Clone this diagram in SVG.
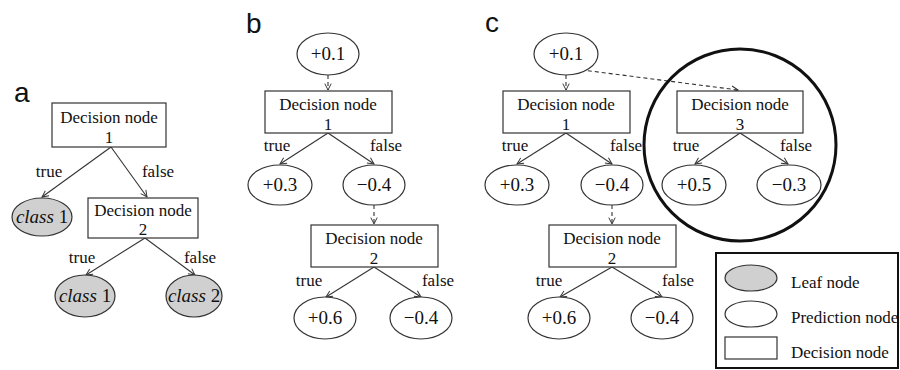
<svg xmlns="http://www.w3.org/2000/svg" width="900" height="370" viewBox="0 0 900 370" font-family="'Liberation Serif', 'Times New Roman', 'DejaVu Serif', serif">
<defs>
<marker id="arr" viewBox="0 0 10 10" refX="9" refY="5" markerWidth="8" markerHeight="8" markerUnits="userSpaceOnUse" orient="auto">
<path d="M1,1 L9,5 L1,9" fill="none" stroke="#333" stroke-width="1.2"/>
</marker>
</defs>
<style>
text{font-family:'Liberation Serif','Times New Roman','DejaVu Serif',serif;fill:#111}
.t{font-size:17px;text-anchor:middle}
.n{font-size:19px;text-anchor:middle}
.l{font-size:17px}
text.p{font-family:'Liberation Sans',Arial,sans-serif;font-size:28px}
.box{fill:#fff;stroke:#333;stroke-width:1.2}
.ell{fill:#fff;stroke:#333;stroke-width:1.2}
.leaf{fill:#d0d0d0;stroke:#333;stroke-width:1.2}
.e{stroke:#333;stroke-width:1.1;fill:none;marker-end:url(#arr)}
.d{stroke:#333;stroke-width:1.1;fill:none;stroke-dasharray:4,3;marker-end:url(#arr)}
.i{font-style:italic}
</style>
<rect width="900" height="370" fill="#fff"/>

<text class="p" x="14" y="102">a</text>
<text class="p" x="246" y="33">b</text>
<text class="p" x="485" y="32">c</text>

<g id="connectors">
<line class="e" x1="111" y1="147" x2="42" y2="197"/>
<line class="e" x1="111" y1="147" x2="147" y2="197"/>
<line class="e" x1="145" y1="238" x2="86" y2="275"/>
<line class="e" x1="145" y1="238" x2="195" y2="275"/>
<line class="d" x1="328" y1="75" x2="328" y2="90"/>
<line class="e" x1="328" y1="133" x2="280" y2="164"/>
<line class="e" x1="328" y1="133" x2="374" y2="164"/>
<line class="d" x1="374" y1="205" x2="374" y2="224"/>
<line class="e" x1="374" y1="267" x2="326" y2="297"/>
<line class="e" x1="374" y1="267" x2="421" y2="297"/>
<line class="d" x1="566" y1="75" x2="566" y2="90"/>
<line class="e" x1="566" y1="133" x2="517" y2="164"/>
<line class="e" x1="566" y1="133" x2="612" y2="164"/>
<line class="d" x1="612" y1="205" x2="612" y2="224"/>
<line class="e" x1="612" y1="267" x2="560" y2="297"/>
<line class="e" x1="612" y1="267" x2="662" y2="297"/>
<line class="d" x1="567" y1="68" x2="738" y2="90"/>
<line class="e" x1="740" y1="133" x2="695" y2="164"/>
<line class="e" x1="740" y1="133" x2="788" y2="164"/>
</g>

<g id="edge-labels">
<text class="t" x="49" y="177">true</text>
<text class="t" x="158" y="177">false</text>
<text class="t" x="82" y="263">true</text>
<text class="t" x="200" y="263">false</text>
<text class="t" x="277" y="151">true</text>
<text class="t" x="386" y="151">false</text>
<text class="t" x="309" y="286">true</text>
<text class="t" x="438" y="286">false</text>
<text class="t" x="515" y="151">true</text>
<text class="t" x="626" y="151">false</text>
<text class="t" x="549" y="286">true</text>
<text class="t" x="678" y="286">false</text>
<text class="t" x="686" y="151">true</text>
<text class="t" x="796" y="151">false</text>
</g>

<g id="a-dn1"><rect class="box" x="52" y="103" width="114" height="44"/><text class="t" x="109" y="123">Decision node</text><text class="t" x="109" y="143">1</text></g>
<g id="a-leaf1"><ellipse class="leaf" cx="42" cy="217" rx="30" ry="19"/><text class="n" x="42" y="223"><tspan class="i">class</tspan> 1</text></g>
<g id="a-dn2"><rect class="box" x="88" y="198" width="110" height="40"/><text class="t" x="143" y="216">Decision node</text><text class="t" x="143" y="235">2</text></g>
<g id="a-leaf2"><ellipse class="leaf" cx="85" cy="296" rx="30" ry="21"/><text class="n" x="85" y="302"><tspan class="i">class</tspan>  1</text></g>
<g id="a-leaf3"><ellipse class="leaf" cx="194" cy="296" rx="28" ry="21"/><text class="n" x="194" y="302"><tspan class="i">class</tspan> 2</text></g>

<g id="b-root"><ellipse class="ell" cx="328" cy="54" rx="31" ry="21"/><text class="n" x="328" y="60">+0.1</text></g>
<g id="b-dn1"><rect class="box" x="265" y="91" width="127" height="42"/><text class="t" x="328" y="110">Decision node</text><text class="t" x="328" y="130">1</text></g>
<g id="b-p1"><ellipse class="ell" cx="280" cy="185" rx="32" ry="20"/><text class="n" x="280" y="191">+0.3</text></g>
<g id="b-p2"><ellipse class="ell" cx="374" cy="185" rx="31" ry="20"/><text class="n" x="374" y="191">−0.4</text></g>
<g id="b-dn2"><rect class="box" x="311" y="225" width="127" height="42"/><text class="t" x="374" y="244">Decision node</text><text class="t" x="374" y="264">2</text></g>
<g id="b-p3"><ellipse class="ell" cx="325" cy="318" rx="31" ry="21"/><text class="n" x="325" y="324">+0.6</text></g>
<g id="b-p4"><ellipse class="ell" cx="421" cy="318" rx="31" ry="21"/><text class="n" x="421" y="324">−0.4</text></g>

<g id="c-circle"><circle cx="740" cy="145" r="96" fill="none" stroke="#111" stroke-width="3"/></g>
<g id="c-root"><ellipse class="ell" cx="566" cy="54" rx="32" ry="21"/><text class="n" x="566" y="60">+0.1</text></g>
<g id="c-dn1"><rect class="box" x="503" y="91" width="127" height="42"/><text class="t" x="566" y="110">Decision node</text><text class="t" x="566" y="130">1</text></g>
<g id="c-p1"><ellipse class="ell" cx="517" cy="185" rx="32" ry="20"/><text class="n" x="517" y="191">+0.3</text></g>
<g id="c-p2"><ellipse class="ell" cx="612" cy="185" rx="31" ry="20"/><text class="n" x="612" y="191">−0.4</text></g>
<g id="c-dn2"><rect class="box" x="549" y="225" width="127" height="42"/><text class="t" x="612" y="244">Decision node</text><text class="t" x="612" y="264">2</text></g>
<g id="c-p3"><ellipse class="ell" cx="559" cy="318" rx="31" ry="21"/><text class="n" x="559" y="324">+0.6</text></g>
<g id="c-p4"><ellipse class="ell" cx="662" cy="318" rx="31" ry="21"/><text class="n" x="662" y="324">−0.4</text></g>
<g id="c-dn3"><rect class="box" x="677" y="91" width="126" height="42"/><text class="t" x="740" y="110">Decision node</text><text class="t" x="740" y="130">3</text></g>
<g id="c-p5"><ellipse class="ell" cx="694" cy="185" rx="32" ry="20"/><text class="n" x="694" y="191">+0.5</text></g>
<g id="c-p6"><ellipse class="ell" cx="789" cy="185" rx="32" ry="20"/><text class="n" x="789" y="191">−0.3</text></g>

<g id="legend">
<rect x="716" y="253" width="182" height="115" fill="#fff" stroke="#111" stroke-width="2"/>
<ellipse class="leaf" cx="751" cy="278" rx="26" ry="13"/>
<text class="l" x="791" y="288">Leaf node</text>
<ellipse class="ell" cx="751" cy="314" rx="26" ry="13"/>
<text class="l" x="791" y="323">Prediction node</text>
<rect class="box" x="725" y="337" width="52" height="22"/>
<text class="l" x="791" y="358">Decision node</text>
</g>
</svg>
